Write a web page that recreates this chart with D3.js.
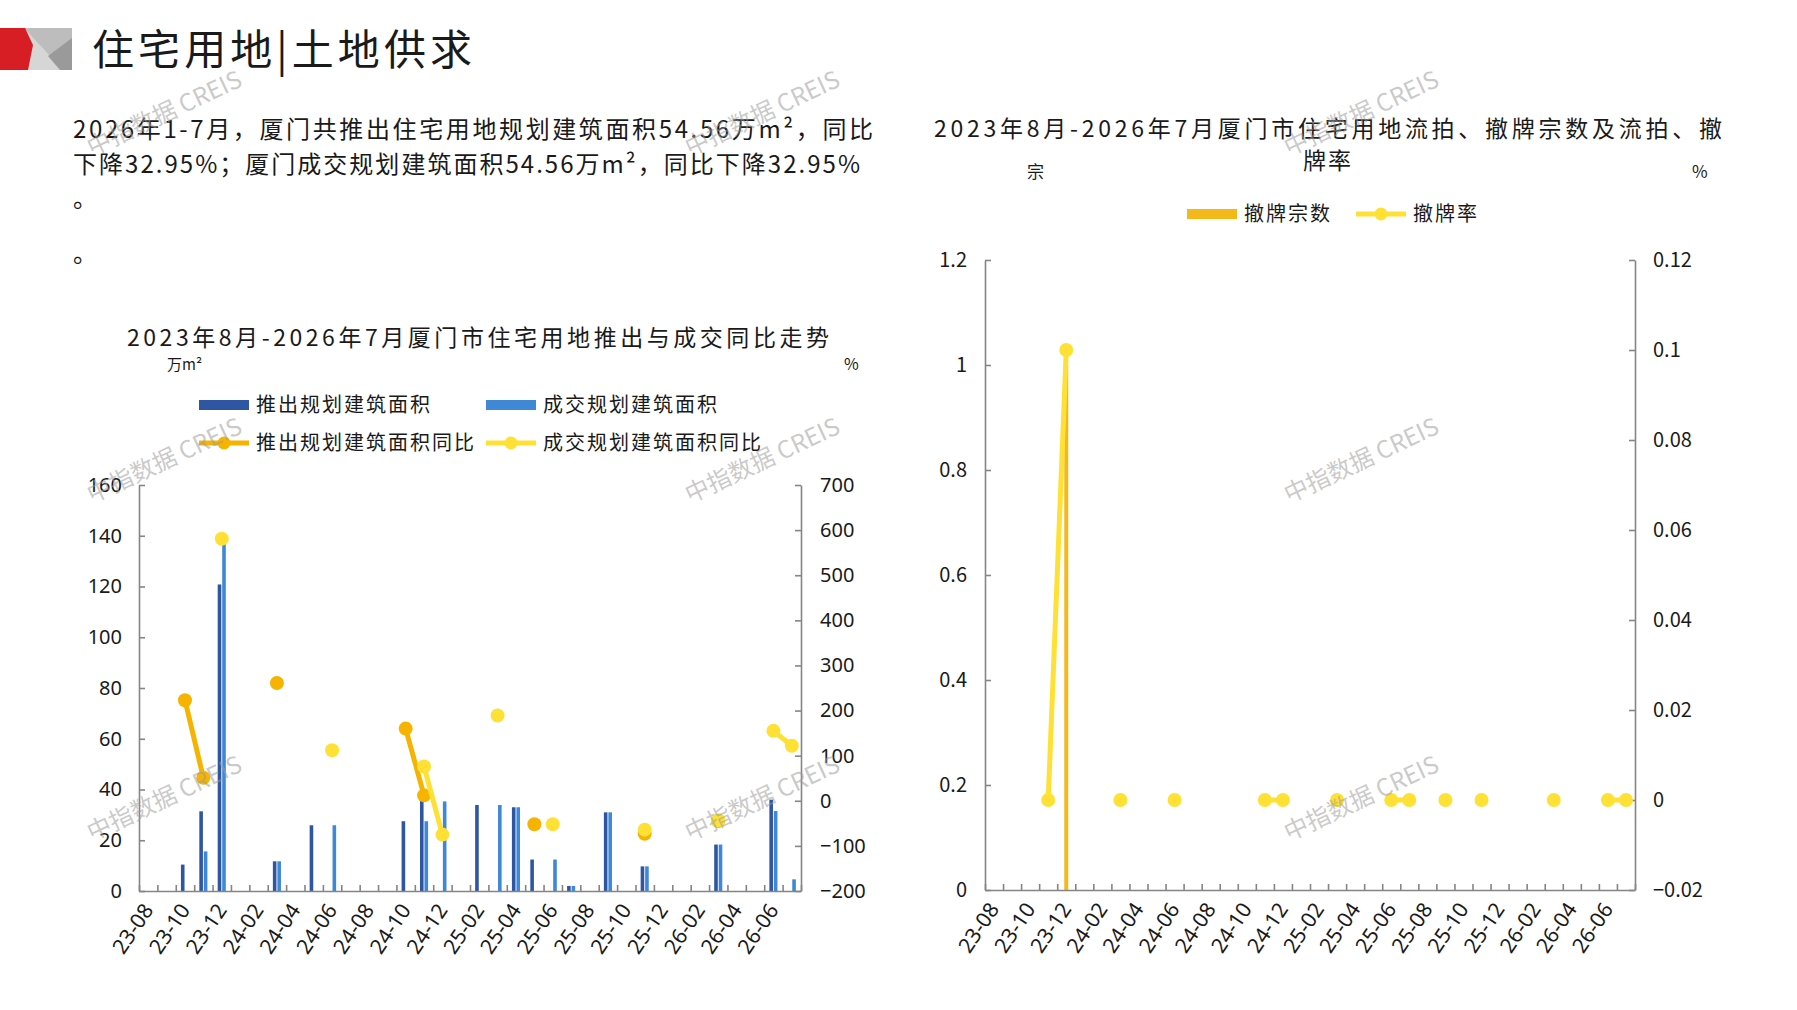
<!DOCTYPE html>
<html>
<head>
<meta charset="utf-8">
<script src="https://cdn.jsdelivr.net/npm/d3@7"></script>
<style>
  body { margin: 0; background: #fff; }
  text { font-family: "Noto Sans CJK SC", "Noto Sans", sans-serif; fill: #1a1a1a; }
  .num { font-family: "Noto Sans", "Noto Sans CJK SC", sans-serif; }
  .axis path, .axis line { stroke: #858585; stroke-width: 1.6; }
</style>
</head>
<body>
<div id="chart"></div>
<script>
// month labels (x axis categories)
var months = ["23-08","23-09","23-10","23-11","23-12","24-01","24-02","24-03","24-04","24-05","24-06","24-07",
              "24-08","24-09","24-10","24-11","24-12","25-01","25-02","25-03","25-04","25-05","25-06","25-07",
              "25-08","25-09","25-10","25-11","25-12","26-01","26-02","26-03","26-04","26-05","26-06","26-07"];

// 推出规划建筑面积 (万m²)
var launchArea = [null,null,10.4,31.4,120.8,null,null,11.7,null,25.9,null,null,
                  null,null,27.5,35.5,null,null,33.9,null,33.0,12.4,null,2.0,
                  null,31.0,null,9.7,null,null,null,18.3,null,null,36.0,null];
// 成交规划建筑面积 (万m²)
var dealArea   = [null,null,null,15.6,137.0,null,null,11.7,null,null,25.9,null,
                  null,null,null,27.5,35.3,null,null,33.9,33.0,null,12.4,2.0,
                  null,31.0,null,9.7,null,null,null,18.3,null,null,31.5,4.6];
// 推出规划建筑面积同比 (%)
var launchYoY  = [null,null,223,51,null,null,null,261,null,null,null,null,
                  null,null,160,12,null,null,null,null,null,-52,null,null,
                  null,null,null,-73,null,null,null,-45,null,null,null,null];
// 成交规划建筑面积同比 (%)
var dealYoY    = [null,null,null,null,581,null,null,null,null,null,112,null,
                  null,null,null,76,-75,null,null,189,null,null,-52,null,
                  null,null,null,-64,null,null,null,-43,null,null,155,122];

// 撤牌宗数 (宗)
var withdrawnCount = [null,null,null,null,1,null,null,null,null,null,null,null,
                      null,null,null,null,null,null,null,null,null,null,null,null,
                      null,null,null,null,null,null,null,null,null,null,null,null];
// 撤牌率 (%)
var withdrawnRate  = [null,null,null,0,0.1,null,null,0,null,null,0,null,
                      null,null,null,0,0,null,null,0,null,null,0,0,
                      null,0,null,0,null,null,null,0,null,null,0,0];

var leftTicks = [0,20,40,60,80,100,120,140,160];
var rightTicksL = [-200,-100,0,100,200,300,400,500,600,700];
var countTicks = [0,0.2,0.4,0.6,0.8,1,1.2];
var rateTicks = [-0.02,0,0.02,0.04,0.06,0.08,0.1,0.12];

var colorLaunch = "#2f56a3", colorDeal = "#3f88d6";
var colorOrange = "#f6b400", colorYellow = "#ffe135";
var colorBar = "#f5b81a";

var svg = d3.select("#chart").append("svg")
    .attr("width", 1797)
    .attr("height", 1010);
svg.append("rect").attr("width", 1797).attr("height", 1010).attr("fill", "#fff");

// ---- header ----
var logo = svg.append("g");
logo.append("rect").attr("x", 0).attr("y", 28).attr("width", 72).attr("height", 42).attr("fill", "#d6d6d6");
logo.append("polygon").attr("points", "24,28 72,28 72,42 52,58").attr("fill", "#bdbdbd");
logo.append("polygon").attr("points", "48,56 72,38 72,70 60,70").attr("fill", "#9a9a9a");
logo.append("polygon").attr("points", "0,28 25,28 33,45 28,70 0,70").attr("fill", "#d81e25");

svg.append("text").attr("x", 92).attr("y", 65)
    .attr("font-size", 42).attr("textLength", 380).attr("lengthAdjust", "spacing")
    .text("住宅用地|土地供求");

svg.append("text").attr("x", 73).attr("y", 138).attr("font-size", 24)
    .attr("textLength", 800).attr("lengthAdjust", "spacing")
    .text("2026年1-7月，厦门共推出住宅用地规划建筑面积54.56万m²，同比");
svg.append("text").attr("x", 73).attr("y", 173).attr("font-size", 24)
    .attr("textLength", 787).attr("lengthAdjust", "spacing")
    .text("下降32.95%；厦门成交规划建筑面积54.56万m²，同比下降32.95%");
svg.append("text").attr("x", 73).attr("y", 207).attr("font-size", 24).text("。");
svg.append("text").attr("x", 73).attr("y", 262).attr("font-size", 24).text("。");

// ---- left chart: 推出与成交 ----
var L = {x0: 139, x1: 801, y0: 891, y1: 485};

svg.append("text").attr("x", 127).attr("y", 346).attr("font-size", 23)
    .attr("textLength", 702).attr("lengthAdjust", "spacing")
    .text("2023年8月-2026年7月厦门市住宅用地推出与成交同比走势");
svg.append("text").attr("x", 167).attr("y", 370).attr("font-size", 15).text("万m²");
svg.append("text").attr("x", 844).attr("y", 370).attr("font-size", 16).text("%");

var xL = d3.scaleBand().domain(months).range([L.x0, L.x1]).paddingInner(0.56).paddingOuter(0.28);
var xSub = d3.scaleBand().domain(["launch", "deal"]).range([0, xL.bandwidth()]).paddingInner(0.2);
var xEdgeL = d3.scaleLinear().domain([0, months.length]).range([L.x0, L.x1]);
var yArea = d3.scaleLinear().domain([0, 160]).range([L.y0, L.y1]);
var yYoY = d3.scaleLinear().domain([-200, 700]).range([L.y0, L.y1]);

var leftLegend = [
    {label: "推出规划建筑面积", type: "rect", color: colorLaunch, x: 199, y: 405},
    {label: "成交规划建筑面积", type: "rect", color: colorDeal, x: 486, y: 405},
    {label: "推出规划建筑面积同比", type: "line", color: colorOrange, x: 199, y: 443},
    {label: "成交规划建筑面积同比", type: "line", color: colorYellow, x: 486, y: 443}
];
leftLegend.forEach(function(d) {
    if (d.type === "rect") {
        svg.append("rect").attr("x", d.x).attr("y", d.y - 5).attr("width", 50).attr("height", 10).attr("fill", d.color);
    } else {
        svg.append("line").attr("x1", d.x).attr("x2", d.x + 50).attr("y1", d.y).attr("y2", d.y)
            .attr("stroke", d.color).attr("stroke-width", 5);
        svg.append("circle").attr("cx", d.x + 25).attr("cy", d.y).attr("r", 6.5).attr("fill", d.color);
    }
    svg.append("text").attr("x", d.x + 57).attr("y", d.y + 7).attr("font-size", 20)
        .attr("letter-spacing", 2).text(d.label);
});

var barsL = svg.append("g");
[{key: "launch", values: launchArea, color: colorLaunch},
 {key: "deal", values: dealArea, color: colorDeal}].forEach(function(s) {
    barsL.selectAll(null)
        .data(months.map(function(m, i) { return {m: m, v: s.values[i]}; }).filter(function(d) { return d.v != null; }))
        .enter()
        .append("rect")
        .attr("x", function(d) { return xL(d.m) + xSub(s.key); })
        .attr("width", xSub.bandwidth())
        .attr("y", function(d) { return yArea(d.v); })
        .attr("height", function(d) { return yArea(0) - yArea(d.v); })
        .attr("fill", s.color);
});

svg.append("g").attr("class", "axis")
    .attr("transform", "translate(0," + L.y0 + ")")
    .call(d3.axisBottom(xEdgeL).tickValues(d3.range(0, months.length + 1)).tickSize(-6).tickSizeOuter(0).tickFormat(""));

svg.append("g").attr("class", "axis num")
    .attr("transform", "translate(" + L.x0 + ",0)")
    .call(d3.axisLeft(yArea).tickValues(leftTicks).tickSize(-6).tickSizeOuter(0).tickPadding(17))
    .selectAll("text").attr("font-size", 20).attr("class", "num").style("fill", "#1a1a1a");

svg.append("g").attr("class", "axis num")
    .attr("transform", "translate(" + L.x1 + ",0)")
    .call(d3.axisRight(yYoY).tickValues(rightTicksL).tickSize(-6).tickSizeOuter(0).tickPadding(19).tickFormat(d3.format("d")))
    .selectAll("text").attr("font-size", 20).attr("class", "num").style("fill", "#1a1a1a");

svg.selectAll(".axis .domain").attr("stroke", "#858585");

function drawSeries(g, xs, ys, values, color, width, r) {
    var pts = months.map(function(m, i) { return {m: m, v: values[i]}; });
    var line = d3.line()
        .defined(function(d) { return d.v != null; })
        .x(function(d) { return xs(d.m) + xs.bandwidth() / 2; })
        .y(function(d) { return ys(d.v); });
    g.append("path").datum(pts).attr("d", line)
        .attr("fill", "none").attr("stroke", color).attr("stroke-width", width).attr("stroke-linejoin", "round");
    g.selectAll(null).data(pts.filter(line.defined())).enter()
        .append("circle")
        .attr("cx", function(d) { return xs(d.m) + xs.bandwidth() / 2; })
        .attr("cy", function(d) { return ys(d.v); })
        .attr("r", r)
        .attr("fill", color);
}

var linesL = svg.append("g");
drawSeries(linesL, xL, yYoY, launchYoY, colorOrange, 5, 7);
drawSeries(linesL, xL, yYoY, dealYoY, colorYellow, 5, 7);

function monthLabels(xs, y0) {
    svg.append("g").selectAll("text")
        .data(months.filter(function(m, i) { return i % 2 === 0; }))
        .enter()
        .append("text")
        .attr("class", "num")
        .attr("font-size", 21)
        .attr("text-anchor", "end")
        .attr("transform", function(d) {
            return "translate(" + (xs(d) + xs.bandwidth() / 2 + 6) + "," + (y0 + 19) + ") rotate(-56)";
        })
        .text(function(d) { return d; });
}
monthLabels(xL, L.y0);

// ---- right chart: 撤牌宗数 / 撤牌率 ----
var R = {x0: 985, x1: 1635, y0: 890, y1: 260};

svg.append("text").attr("x", 934).attr("y", 137).attr("font-size", 23)
    .attr("textLength", 788).attr("lengthAdjust", "spacing")
    .text("2023年8月-2026年7月厦门市住宅用地流拍、撤牌宗数及流拍、撤");
svg.append("text").attr("x", 1328).attr("y", 169).attr("font-size", 23)
    .attr("text-anchor", "middle").attr("letter-spacing", 2).text("牌率");
svg.append("text").attr("x", 1027).attr("y", 178).attr("font-size", 17).text("宗");
svg.append("text").attr("x", 1692).attr("y", 178).attr("font-size", 17).text("%");

svg.append("rect").attr("x", 1187).attr("y", 209).attr("width", 50).attr("height", 10).attr("fill", colorBar);
svg.append("text").attr("x", 1244).attr("y", 221).attr("font-size", 20).attr("letter-spacing", 2).text("撤牌宗数");
svg.append("line").attr("x1", 1356).attr("x2", 1406).attr("y1", 214).attr("y2", 214)
    .attr("stroke", colorYellow).attr("stroke-width", 5);
svg.append("circle").attr("cx", 1381).attr("cy", 214).attr("r", 6.5).attr("fill", colorYellow);
svg.append("text").attr("x", 1413).attr("y", 221).attr("font-size", 20).attr("letter-spacing", 2).text("撤牌率");

var xR = d3.scaleBand().domain(months).range([R.x0, R.x1]).paddingInner(0.78).paddingOuter(0.39);
var xEdgeR = d3.scaleLinear().domain([0, months.length]).range([R.x0, R.x1]);
var yCount = d3.scaleLinear().domain([0, 1.2]).range([R.y0, R.y1]);
var yRate = d3.scaleLinear().domain([-0.02, 0.12]).range([R.y0, R.y1]);

svg.append("g").selectAll("rect")
    .data(months.map(function(m, i) { return {m: m, v: withdrawnCount[i]}; }).filter(function(d) { return d.v != null; }))
    .enter()
    .append("rect")
    .attr("x", function(d) { return xR(d.m); })
    .attr("width", xR.bandwidth())
    .attr("y", function(d) { return yCount(d.v); })
    .attr("height", function(d) { return yCount(0) - yCount(d.v); })
    .attr("fill", colorBar);

svg.append("g").attr("class", "axis")
    .attr("transform", "translate(0," + R.y0 + ")")
    .call(d3.axisBottom(xEdgeR).tickValues(d3.range(0, months.length + 1)).tickSize(-6).tickSizeOuter(0).tickFormat(""));

svg.append("g").attr("class", "axis")
    .attr("transform", "translate(" + R.x0 + ",0)")
    .call(d3.axisLeft(yCount).tickValues(countTicks).tickSize(-6).tickSizeOuter(0).tickPadding(18).tickFormat(d3.format("~g")))
    .selectAll("text").attr("font-size", 20).style("fill", "#1a1a1a");

svg.append("g").attr("class", "axis")
    .attr("transform", "translate(" + R.x1 + ",0)")
    .call(d3.axisRight(yRate).tickValues(rateTicks).tickSize(-6).tickSizeOuter(0).tickPadding(18).tickFormat(d3.format("~g")))
    .selectAll("text").attr("font-size", 20).style("fill", "#1a1a1a");

var linesR = svg.append("g");
drawSeries(linesR, xR, yRate, withdrawnRate, colorYellow, 5, 7);
monthLabels(xR, R.y0);

// ---- watermarks ----
var wmX = [165, 763, 1362];
var wmY = [115, 462, 800];
wmY.forEach(function(y) {
    wmX.forEach(function(x) {
        svg.append("text")
            .attr("transform", "translate(" + x + "," + y + ") rotate(-25)")
            .attr("text-anchor", "middle")
            .attr("dominant-baseline", "middle")
            .attr("font-size", 24)
            .style("fill", "#9c9c9c")
            .style("fill-opacity", 0.55)
            .text("中指数据 CREIS");
    });
});
</script>
</body>
</html>
